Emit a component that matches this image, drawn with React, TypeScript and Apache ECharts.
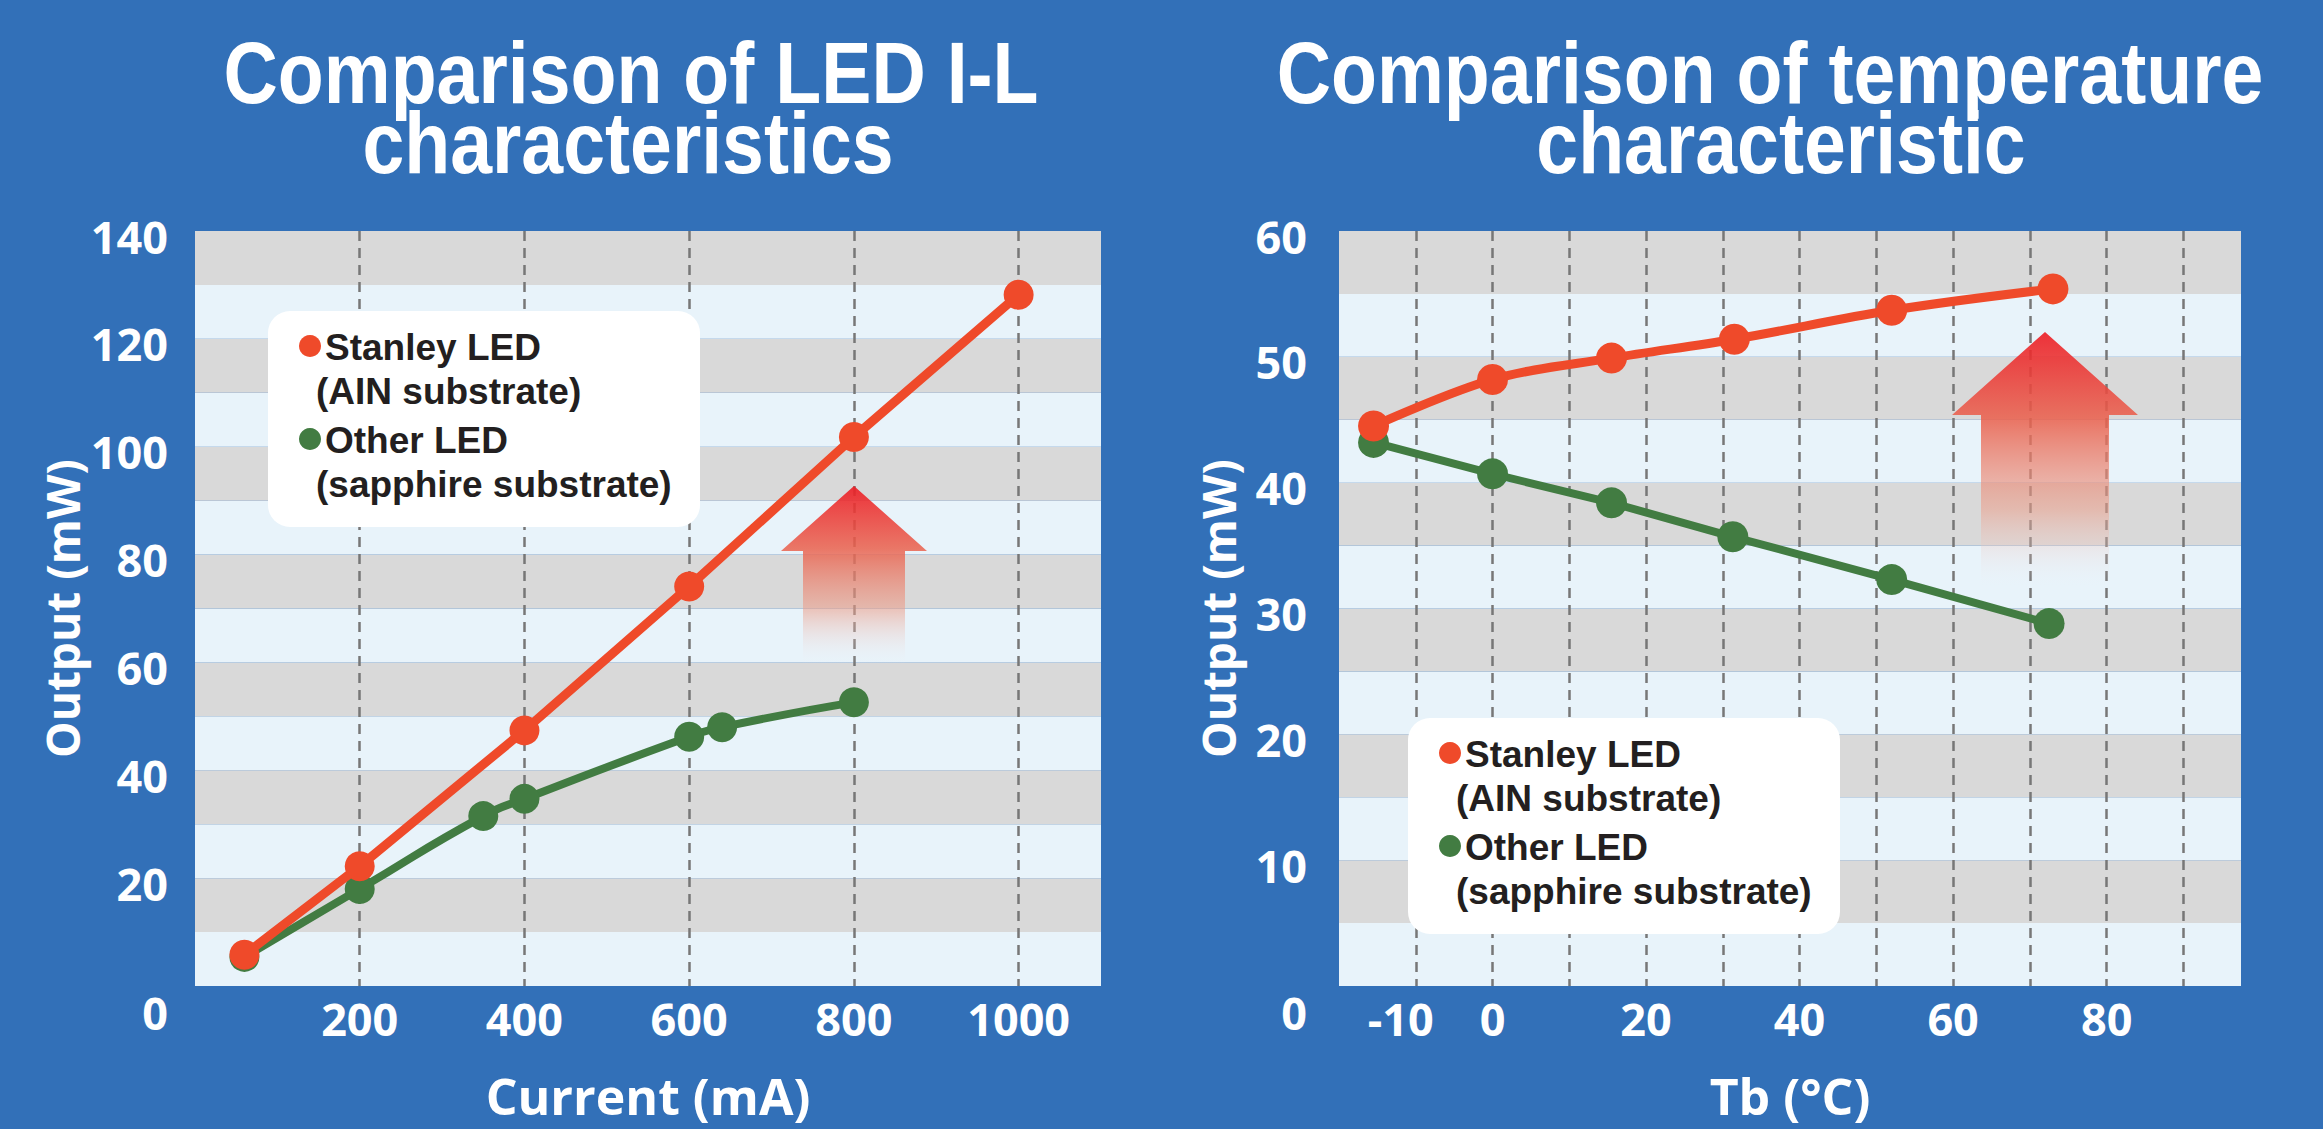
import React, { useEffect, useRef } from "react";
import * as echarts from "echarts";

// ---------- data ----------
const currentStanley: number[][] = [[60, 5.8], [200, 22.2], [400, 47.4], [600, 74.1], [800, 101.8], [1000, 128.2]];
const currentOther: number[][] = [[60, 5.4], [200, 18], [350, 31.5], [400, 34.7], [600, 46.2], [640, 48], [800, 52.6]];
const tempStanley: number[][] = [[-15.5, 44.5], [0, 48.2], [15.5, 49.9], [31.5, 51.4], [52, 53.7], [73, 55.4]];
const tempOther: number[][] = [[-15.5, 43.2], [0, 40.7], [15.5, 38.4], [31.3, 35.7], [52, 32.3], [72.5, 28.8]];
const currentTickLabels = [200, 400, 600, 800, 1000];
const tempTickLabels = [-10, 0, 20, 40, 60, 80];
const titleLeft = ["Comparison of LED I-L", "characteristics"];
const titleRight = ["Comparison of temperature", "characteristic"];
const legendLines = ["Stanley LED", "(AIN substrate)", "Other LED", "(sapphire substrate)"];
const seriesNames = ["Stanley LED (AIN substrate)", "Other LED (sapphire substrate)"];

const BG = "#3270B8";
const RED = "#EF4A2A";
const GREEN = "#427C42";
const BAND_LIGHT = "#E8F3FA";
const BAND_GREY = "#D9D9D9";
const TICK_FONT = "Open Sans";
const HEAD_FONT = "Liberation Sans";

function yLabel(margin: number) {
  const base = { color: "#fff", fontFamily: TICK_FONT, fontWeight: "bold" as const, fontSize: 45, lineHeight: 46 };
  return {
    color: "#fff",
    fontFamily: TICK_FONT,
    fontWeight: "bold" as const,
    fontSize: 45,
    margin,
    formatter: (v: number) => (v === 0 ? "{z|0}" : "{a|" + v + "}"),
    rich: {
      a: { ...base, padding: [10, 0, 0, 0] },
      z: { ...base, padding: [52, 0, 0, 0] },
    },
  };
}

function titleTexts(lines: string[], centers: number[]) {
  return lines.map((t, i) => ({
    type: "text",
    x: centers[i],
    y: 73 + i * 70,
    scaleX: 0.865,
    z: 20,
    style: {
      text: t,
      x: 0,
      y: 0,
      align: "center",
      verticalAlign: "middle",
      fill: "#fff",
      fontFamily: HEAD_FONT,
      fontWeight: "bold",
      fontSize: 87,
    },
  }));
}

function legendBox(left: number, top: number) {
  const offsets = [36, 80, 129, 173];
  const xs = [57, 48, 57, 48];
  const els: any[] = [
    { type: "rect", z: 30, shape: { x: left, y: top, width: 432, height: 216, r: 22 }, style: { fill: "#fff" } },
    { type: "circle", z: 31, shape: { cx: left + 42, cy: top + 35, r: 11 }, style: { fill: RED } },
    { type: "circle", z: 31, shape: { cx: left + 42, cy: top + 128, r: 11 }, style: { fill: GREEN } },
  ];
  legendLines.forEach((t, i) => {
    els.push({
      type: "text",
      z: 31,
      x: left + xs[i],
      y: top + offsets[i],
      style: {
        text: t,
        align: "left",
        verticalAlign: "middle",
        fill: "#231F20",
        fontFamily: HEAD_FONT,
        fontWeight: "bold",
        fontSize: 37,
      },
    });
  });
  return els;
}

function arrow(cx: number, top: number, headBase: number, bottom: number, headHalf: number, shaftHalf: number) {
  return {
    type: "polygon",
    z: 1,
    shape: {
      points: [
        [cx, top],
        [cx + headHalf, headBase],
        [cx + shaftHalf, headBase],
        [cx + shaftHalf, bottom],
        [cx - shaftHalf, bottom],
        [cx - shaftHalf, headBase],
        [cx - headHalf, headBase],
      ],
    },
    style: {
      opacity: 0.9,
      fill: {
        type: "linear",
        x: 0,
        y: 0,
        x2: 0,
        y2: 1,
        colorStops: [
          { offset: 0, color: "rgba(237,28,36,1)" },
          { offset: 0.35, color: "rgba(234,98,78,0.95)" },
          { offset: 0.7, color: "rgba(236,160,140,0.6)" },
          { offset: 1, color: "rgba(240,240,245,0)" },
        ],
      },
    },
  };
}

const dashed = { show: true, showMinLine: false, showMaxLine: false, lineStyle: { color: "#777777", width: 2.5, type: [10, 7] as number[] } };

export default function App() {
  const ref = useRef<HTMLDivElement>(null);
  useEffect(() => {
    if (!ref.current) return;
    const chart = echarts.init(ref.current, null, { renderer: "svg" });
    const xName = { color: "#fff", fontFamily: TICK_FONT, fontWeight: "bold" as const, fontSize: 50, lineHeight: 50 };
    const yName = { color: "#fff", fontFamily: TICK_FONT, fontWeight: "bold" as const, fontSize: 46, lineHeight: 46 };
    const option: any = {
      animation: false,
      backgroundColor: BG,
      grid: [
        { left: 195, top: 231, width: 906, height: 755 },
        { left: 1339, top: 231, width: 902, height: 755 },
      ],
      xAxis: [
        {
          type: "value",
          gridIndex: 0,
          min: 0,
          max: 1100,
          interval: 200,
          name: "Current (mA)",
          nameLocation: "middle",
          nameGap: 85,
          nameTextStyle: xName,
          axisLine: { show: false },
          axisTick: { show: false },
          splitLine: dashed,
          axisLabel: {
            color: "#fff",
            fontFamily: TICK_FONT,
            fontWeight: "bold",
            fontSize: 45,
            lineHeight: 46,
            margin: 9,
            formatter: (v: number) => (currentTickLabels.includes(v) ? String(v) : ""),
          },
        },
        {
          type: "value",
          gridIndex: 1,
          min: -20,
          max: 97.5,
          interval: 10,
          name: "Tb (°C)",
          nameLocation: "middle",
          nameGap: 85,
          nameTextStyle: xName,
          axisLine: { show: false },
          axisTick: { show: false },
          splitLine: dashed,
          axisLabel: {
            color: "#fff",
            fontFamily: TICK_FONT,
            fontWeight: "bold",
            fontSize: 45,
            lineHeight: 46,
            margin: 9,
            formatter: (v: number) =>
              tempTickLabels.includes(v) ? (v < 0 ? "{n|" + v + "}" : String(v)) : "",
            rich: {
              n: { color: "#fff", fontFamily: TICK_FONT, fontWeight: "bold", fontSize: 45, lineHeight: 46, padding: [0, 30, 0, 0] },
            },
          },
        },
      ],
      yAxis: [
        {
          type: "value",
          gridIndex: 0,
          min: 0,
          max: 140,
          interval: 20,
          name: "Output (mW)",
          nameLocation: "middle",
          nameGap: 110,
          nameTextStyle: yName,
          axisLine: { show: false },
          axisTick: { show: false },
          splitLine: { show: false },
          axisLabel: yLabel(27),
          z: 3,
        },
        {
          type: "value",
          gridIndex: 0,
          min: 0,
          max: 140,
          interval: 10,
          axisLine: { show: false },
          axisTick: { show: false },
          axisLabel: { show: false },
          splitLine: { show: false },
          splitArea: { show: true, areaStyle: { color: [BAND_LIGHT, BAND_GREY] } },
          z: -1,
        },
        {
          type: "value",
          gridIndex: 1,
          min: 0,
          max: 60,
          interval: 10,
          name: "Output (mW)",
          nameLocation: "middle",
          nameGap: 98,
          nameTextStyle: yName,
          axisLine: { show: false },
          axisTick: { show: false },
          splitLine: { show: false },
          axisLabel: yLabel(32),
          z: 3,
        },
        {
          type: "value",
          gridIndex: 1,
          min: 0,
          max: 60,
          interval: 5,
          axisLine: { show: false },
          axisTick: { show: false },
          axisLabel: { show: false },
          splitLine: { show: false },
          splitArea: { show: true, areaStyle: { color: [BAND_LIGHT, BAND_GREY] } },
          z: -1,
        },
      ],
      series: [
        {
          name: seriesNames[1],
          type: "line",
          xAxisIndex: 0,
          yAxisIndex: 0,
          data: currentOther,
          smooth: 0.55,
          symbol: "circle",
          symbolSize: 30,
          lineStyle: { color: GREEN, width: 8 },
          itemStyle: { color: GREEN },
          z: 3,
        },
        {
          name: seriesNames[0],
          type: "line",
          xAxisIndex: 0,
          yAxisIndex: 0,
          data: currentStanley,
          symbol: "circle",
          symbolSize: 30,
          lineStyle: { color: RED, width: 9 },
          itemStyle: { color: RED },
          z: 4,
        },
        {
          name: seriesNames[1],
          type: "line",
          xAxisIndex: 1,
          yAxisIndex: 2,
          data: tempOther,
          symbol: "circle",
          symbolSize: 31,
          lineStyle: { color: GREEN, width: 8 },
          itemStyle: { color: GREEN },
          z: 3,
        },
        {
          name: seriesNames[0],
          type: "line",
          xAxisIndex: 1,
          yAxisIndex: 2,
          data: tempStanley,
          smooth: 0.35,
          symbol: "circle",
          symbolSize: 31,
          lineStyle: { color: RED, width: 9 },
          itemStyle: { color: RED },
          z: 4,
        },
      ],
      graphic: {
        elements: [
          ...titleTexts(titleLeft, [631, 628]),
          ...titleTexts(titleRight, [1770, 1781]),
          arrow(854, 486, 551, 665, 73, 51),
          arrow(2045, 332, 415, 587, 93, 64),
          ...legendBox(268, 311),
          ...legendBox(1408, 718),
        ],
      },
    };
    chart.setOption(option);
    return () => chart.dispose();
  }, []);
  return <div ref={ref} style={{ position: "absolute", left: 0, top: 0, width: 2323, height: 1129 }} />;
}
